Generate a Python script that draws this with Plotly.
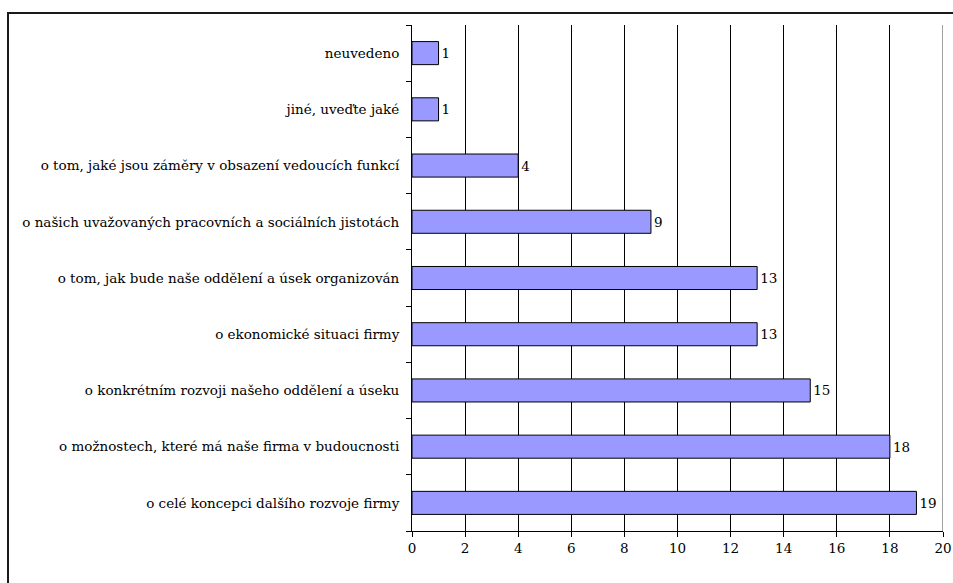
import plotly.graph_objects as go

# Survey answers, listed bottom to top as drawn on the category axis
categories = [
    "o celé koncepci dalšího rozvoje firmy",
    "o možnostech, které má naše firma v budoucnosti",
    "o konkrétním rozvoji našeho oddělení a úseku",
    "o ekonomické situaci firmy",
    "o tom, jak bude naše oddělení a úsek organizován",
    "o našich uvažovaných pracovních a sociálních jistotách",
    "o tom, jaké jsou záměry v obsazení vedoucích funkcí",
    "jiné, uveďte jaké",
    "neuvedeno",
]
counts = [19, 18, 15, 13, 13, 9, 4, 1, 1]
x_ticks = list(range(0, 21, 2))

FONT = "DejaVu Serif"
SIZE = 13.5

fig = go.Figure(
    go.Bar(
        x=counts,
        y=categories,
        orientation="h",
        marker=dict(color="#9999FF", line=dict(color="#000000", width=1)),
        text=[str(v) for v in counts],
        textposition="outside",
        textfont=dict(family=FONT, size=SIZE, color="#000000"),
        cliponaxis=False,
    )
)

fig.update_layout(
    width=953,
    height=583,
    margin=dict(l=412, r=10, t=25, b=52, autoexpand=False),
    paper_bgcolor="#FFFFFF",
    plot_bgcolor="#FFFFFF",
    bargap=0.59,
    showlegend=False,
    font=dict(family=FONT, size=SIZE, color="#000000"),
    xaxis=dict(
        range=[0, 20],
        tickvals=x_ticks,
        showgrid=True,
        gridcolor="#000000",
        gridwidth=1,
        zeroline=False,
        showline=True,
        linecolor="#000000",
        linewidth=1,
        ticks="outside",
        ticklen=5,
        tickcolor="#000000",
        automargin=False,
        tickfont=dict(family=FONT, size=SIZE, color="#000000"),
    ),
    yaxis=dict(
        type="category",
        categoryorder="array",
        categoryarray=categories,
        showgrid=False,
        showline=True,
        linecolor="#000000",
        linewidth=1,
        ticks="outside",
        tickson="boundaries",
        ticklen=5,
        tickcolor="#000000",
        ticklabelstandoff=9,
        automargin=False,
        tickfont=dict(family=FONT, size=SIZE, color="#000000"),
    ),
    shapes=[
        # lighter gridline at the right end of the value axis
        dict(type="line", xref="x", yref="paper", x0=20, x1=20, y0=0, y1=1,
             line=dict(color="#808080", width=1.5)),
        # outer chart frame (left and top edges)
        dict(type="path", xref="paper", yref="paper",
             path="M -0.7608 -0.2 L -0.7608 1.0237 L 1.1 1.0237",
             line=dict(color="#1a1a1a", width=2)),
    ],
)

fig.write_html("out.html")
